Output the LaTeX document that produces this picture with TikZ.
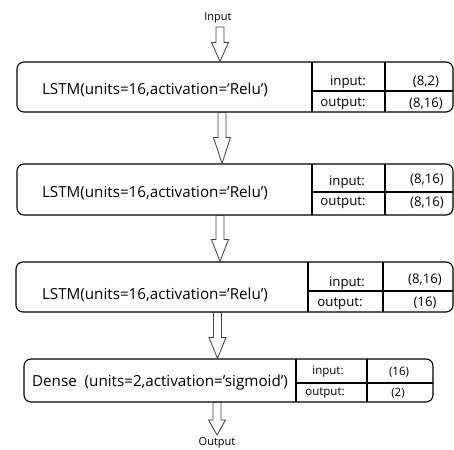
\documentclass[tikz,border=0pt]{standalone}
\usepackage{fontspec}
\setmainfont{Open Sans}
\usetikzlibrary{calc}

\tikzset{
	layer/.style={draw, rounded corners=7pt, line width=1.1pt, inner sep=0pt},
	lbl/.style={inner sep=0pt, font=\fontsize{15.2}{17}\selectfont},
	cell/.style={inner sep=0pt, font=\fontsize{13.2}{15}\selectfont},
	smallcell/.style={inner sep=0pt, font=\fontsize{11.5}{13}\selectfont},
	io/.style={inner sep=0pt, font=\fontsize{11}{13}\selectfont},
	fatarrow/.style={draw=black!75, line width=0.8pt, fill=white},
}

% hollow block arrow: start, tip, head length
\newcommand{\hollowarrow}[3]{%
	\draw[fatarrow] let \p1=(#1), \p2=(#2) in
	(\x1-4pt,\y1) -- (\x1-4pt,\y2+#3) -- (\x1-8.5pt,\y2+#3) -- (\x1,\y2)
	-- (\x1+8.5pt,\y2+#3) -- (\x1+4pt,\y2+#3) -- (\x1+4pt,\y1) -- cycle;}

\begin{document}
\begin{tikzpicture}[x=1pt, y=1pt]
	\useasboundingbox (0,0) rectangle (454,449);
	
	%Input
	\node[io] (In) at (218,431) {Input};
	\coordinate (a0) at (220,422);
	
	%One LSTM-Layer
	\node[layer, minimum width=436pt, minimum height=50pt] (L1) at (235,362) {};
	\node[lbl] (L1t) at (155,359) {LSTM(units=16,activation='Relu')};
	\draw[line width=1.1pt] (312,387) -- (312,337);
	\draw[line width=1.1pt] (385,387) -- (385,337);
	\draw[line width=1.1pt] (312,358) -- (453,358);
	\node[cell] (L1i) at (348,367) {input:};
	\node[cell] (L1o) at (343,345) {output:};
	\node[cell] (L1a) at (426,367) {(8,2)};
	\node[cell] (L1b) at (426,345) {(8,16)};
	
	%One LSTM-Layer
	\node[layer, minimum width=436pt, minimum height=51pt] (L2) at (235,259.5) {};
	\node[lbl] (L2t) at (155,256) {LSTM(units=16,activation='Relu')};
	\draw[line width=1.1pt] (312,285) -- (312,234);
	\draw[line width=1.1pt] (385,285) -- (385,234);
	\draw[line width=1.1pt] (312,257) -- (453,257);
	\node[cell] (L2i) at (347,267) {input:};
	\node[cell] (L2o) at (343,246) {output:};
	\node[cell] (L2a) at (427,269) {(8,16)};
	\node[cell] (L2b) at (427,246) {(8,16)};
	
	%One LSTM-Layer
	\node[layer, minimum width=437pt, minimum height=50pt] (L3) at (234.5,162) {};
	\node[lbl] (L3t) at (155,154) {LSTM(units=16,activation='Relu')};
	\draw[line width=1.1pt] (308,187) -- (308,137);
	\draw[line width=1.1pt] (383,187) -- (383,137);
	\draw[line width=1.1pt] (308,158) -- (453,158);
	\node[cell] (L3i) at (347,166) {input:};
	\node[cell] (L3o) at (340,145) {output:};
	\node[cell] (L3a) at (425,169) {(8,16)};
	\node[cell] (L3b) at (425,146) {(16)};
	
	%Dense-Layer
	\node[layer, minimum width=409pt, minimum height=43pt] (L4) at (228.5,68.5) {};
	\node[lbl] (L4t) at (160,66) {Dense\ \ (units=2,activation='sigmoid')};
	\draw[line width=1.1pt] (296,90) -- (296,47);
	\draw[line width=1.1pt] (367,90) -- (367,47);
	\draw[line width=1.1pt] (296,66) -- (433,66);
	\node[smallcell] (L4i) at (328,77) {input:};
	\node[smallcell] (L4o) at (325,56) {output:};
	\node[smallcell] (L4a) at (399,77) {(16)};
	\node[smallcell] (L4b) at (398,56) {(2)};
	
	%Output
	\node[io] (Out) at (217,6) {Output};
	\coordinate (a4) at (217,14);
	
	%Arrows
	\hollowarrow{a0}{a0 |- L1.north}{19pt}
	\hollowarrow{L1.south -| 222,0}{222,0 |- L2.north}{26pt}
	\hollowarrow{L2.south -| 220,0}{220,0 |- L3.north}{22pt}
	\hollowarrow{L3.south -| 217.5,0}{217.5,0 |- L4.north}{21pt}
	\hollowarrow{L4.south -| a4}{a4}{15pt}
\end{tikzpicture}
\end{document}
